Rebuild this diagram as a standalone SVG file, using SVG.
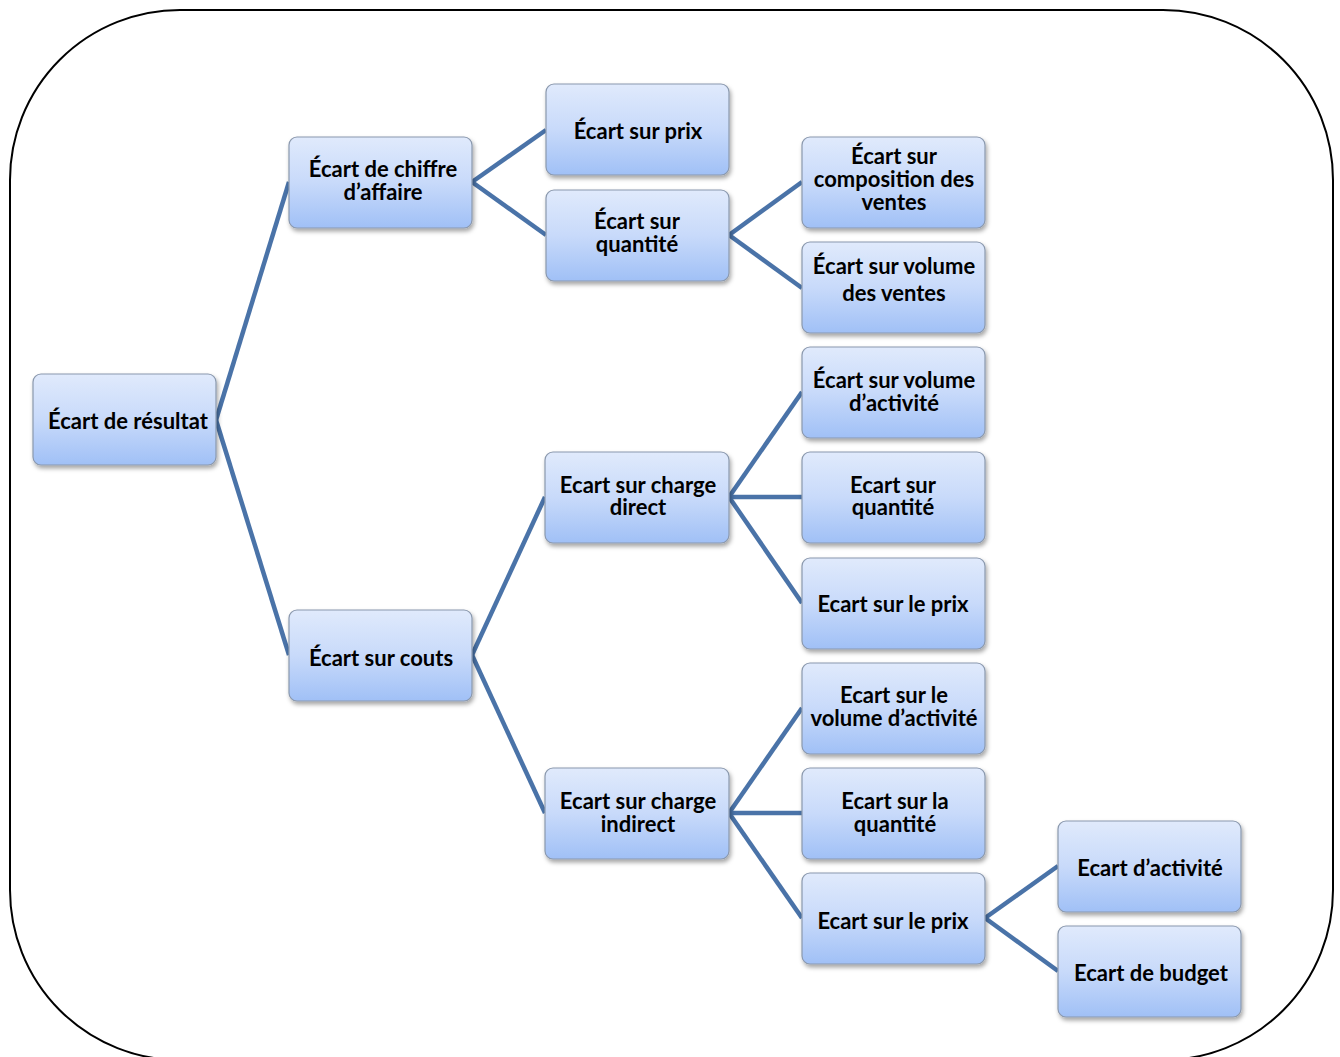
<svg xmlns="http://www.w3.org/2000/svg" width="1340" height="1057" viewBox="0 0 1340 1057">
<defs>
<linearGradient id="g" x1="0" y1="0" x2="0" y2="1">
<stop offset="0" stop-color="#e0eafc"/>
<stop offset="0.5" stop-color="#c8dafa"/>
<stop offset="1" stop-color="#a0c0f6"/>
</linearGradient>
<filter id="sh" x="-10%" y="-10%" width="125%" height="130%">
<feDropShadow dx="1.5" dy="3" stdDeviation="2" flood-color="#000" flood-opacity="0.35"/>
</filter>
</defs>
<style>
.n rect{fill:url(#g);stroke:#8a98ad;stroke-width:1.2;filter:url(#sh)}
.n text{font-family:Lato,"Liberation Sans",sans-serif;font-weight:bold;font-size:22px;fill:#000;text-anchor:middle}
.c line{stroke:#4a73a8;stroke-width:4.5;stroke-linecap:butt}
</style>
<rect x="10" y="10" width="1323" height="1050" rx="170" ry="170" fill="#fff" stroke="#000" stroke-width="2"/>
<g class="c" id="connectors">
<line x1="216" y1="420" x2="289" y2="182"/>
<line x1="216" y1="420" x2="289" y2="655"/>
<line x1="472" y1="182" x2="546" y2="130"/>
<line x1="472" y1="182" x2="546" y2="235"/>
<line x1="729" y1="235" x2="802" y2="182"/>
<line x1="729" y1="235" x2="802" y2="288"/>
<line x1="472" y1="655" x2="545" y2="497"/>
<line x1="472" y1="655" x2="545" y2="813"/>
<line x1="729" y1="497" x2="802" y2="392"/>
<line x1="729" y1="497" x2="802" y2="497"/>
<line x1="729" y1="497" x2="802" y2="603"/>
<line x1="729" y1="813" x2="802" y2="708"/>
<line x1="729" y1="813" x2="802" y2="813"/>
<line x1="729" y1="813" x2="802" y2="918"/>
<line x1="985" y1="918" x2="1058" y2="866"/>
<line x1="985" y1="918" x2="1058" y2="971"/>
</g>
<g class="n" id="n-resultat"><rect x="33" y="374" width="183" height="91" rx="8"/><text x="128" y="429">Écart de résultat</text></g>
<g class="n" id="n-ca"><rect x="289" y="137" width="183" height="91" rx="8"/><text x="383" y="177">Écart  de chiffre<tspan x="383" y="200">d’affaire</tspan></text></g>
<g class="n" id="n-couts"><rect x="289" y="610" width="183" height="91" rx="8"/><text x="381" y="666">Écart sur couts</text></g>
<g class="n" id="n-prix"><rect x="546" y="84" width="183" height="91" rx="8"/><text x="638" y="139">Écart sur prix</text></g>
<g class="n" id="n-quantite"><rect x="546" y="190" width="183" height="91" rx="8"/><text x="637" y="229">Écart sur<tspan x="637" y="252">quantité</tspan></text></g>
<g class="n" id="n-direct"><rect x="545" y="452" width="184" height="91" rx="8"/><text x="638" y="493">Ecart sur charge<tspan x="638" y="515">direct</tspan></text></g>
<g class="n" id="n-indirect"><rect x="545" y="768" width="184" height="91" rx="8"/><text x="638" y="809">Ecart sur charge<tspan x="638" y="832">indirect</tspan></text></g>
<g class="n" id="n-composition"><rect x="802" y="137" width="183" height="91" rx="8"/><text x="894" y="164">Écart sur<tspan x="894" y="187">composition des</tspan><tspan x="894" y="210">ventes</tspan></text></g>
<g class="n" id="n-volventes"><rect x="802" y="242" width="183" height="91" rx="8"/><text x="894" y="274">Écart sur volume<tspan x="894" y="301">des ventes</tspan></text></g>
<g class="n" id="n-volact"><rect x="802" y="347" width="183" height="91" rx="8"/><text x="894" y="388">Écart sur volume<tspan x="894" y="411">d’activité</tspan></text></g>
<g class="n" id="n-quant2"><rect x="802" y="452" width="183" height="91" rx="8"/><text x="893" y="493">Ecart sur<tspan x="893" y="515">quantité</tspan></text></g>
<g class="n" id="n-prix2"><rect x="802" y="558" width="183" height="91" rx="8"/><text x="893" y="612">Ecart sur le prix</text></g>
<g class="n" id="n-volact2"><rect x="802" y="663" width="183" height="91" rx="8"/><text x="894" y="703">Ecart sur le<tspan x="894" y="726">volume d’activité</tspan></text></g>
<g class="n" id="n-laquant"><rect x="802" y="768" width="183" height="91" rx="8"/><text x="895" y="809">Ecart sur la<tspan x="895" y="832">quantité</tspan></text></g>
<g class="n" id="n-prix3"><rect x="802" y="873" width="183" height="91" rx="8"/><text x="893" y="929">Ecart sur le prix</text></g>
<g class="n" id="n-activite"><rect x="1058" y="821" width="183" height="91" rx="8"/><text x="1150" y="876">Ecart d’activité</text></g>
<g class="n" id="n-budget"><rect x="1058" y="926" width="183" height="91" rx="8"/><text x="1151" y="981">Ecart de budget</text></g>
</svg>
